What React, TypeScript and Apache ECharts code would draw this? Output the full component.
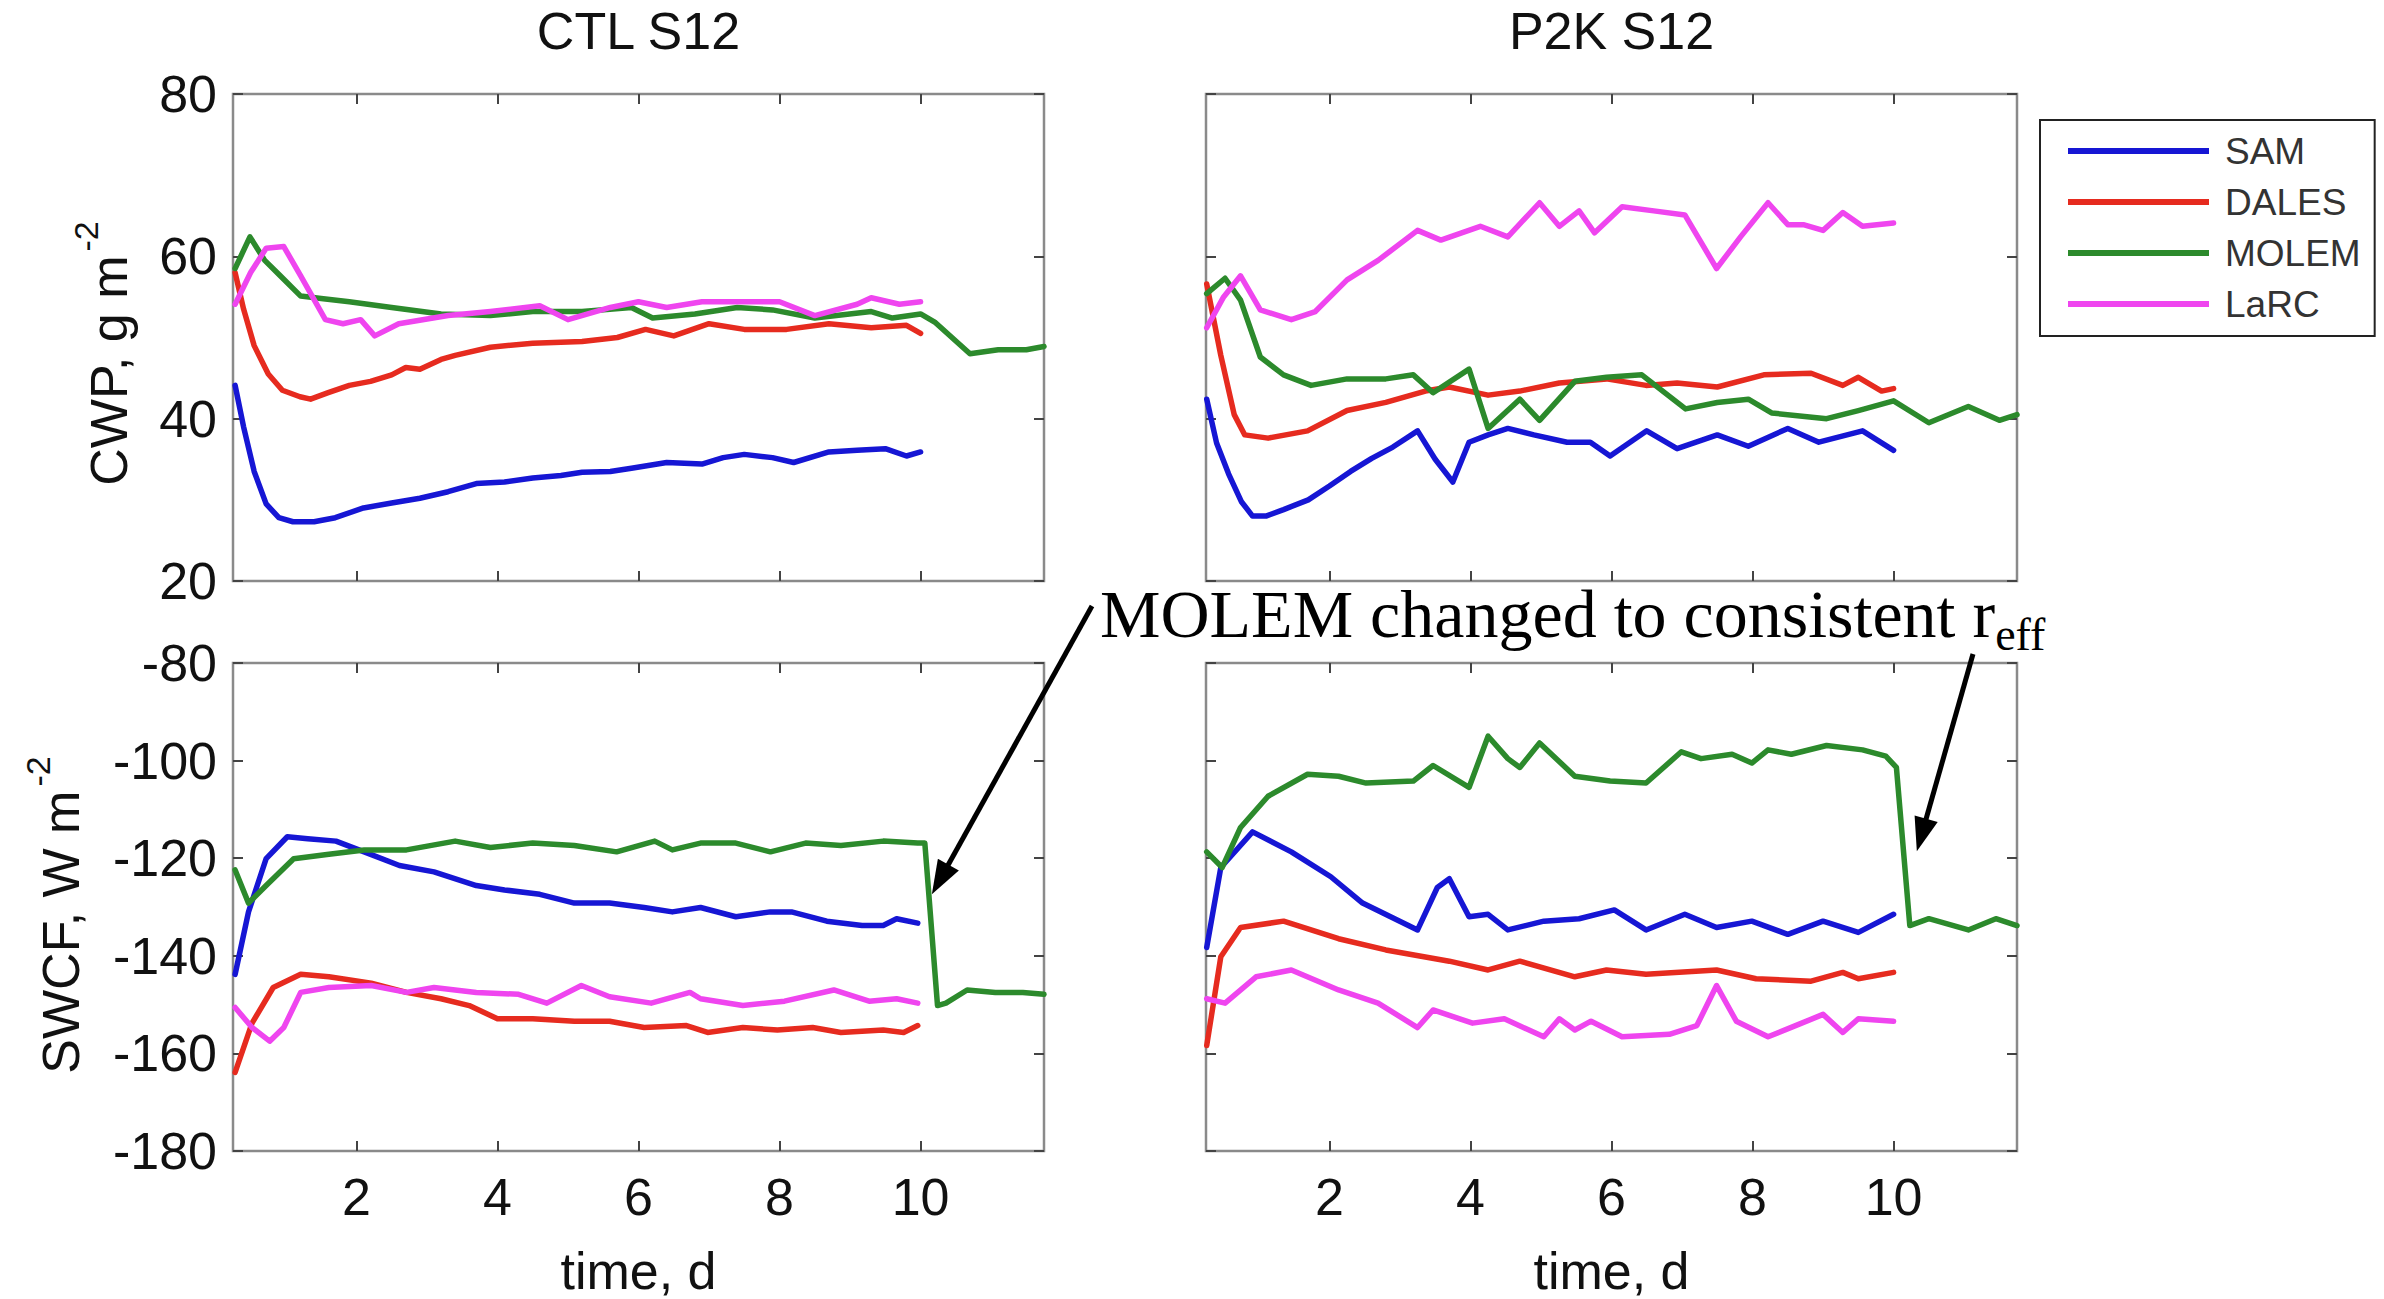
import React, { useEffect, useRef } from "react";
import * as echarts from "echarts";

// ---- series definitions ----
const MODELS = ["SAM", "DALES", "MOLEM", "LaRC"];
const COLORS = ["#1616d4", "#e62b1f", "#2c8a2c", "#ef45ef"];

// shared tick values
const X_TICKS = [2, 4, 6, 8, 10];
const X_RANGE = [0.25, 11.75];
const CWP_RANGE = [20, 80];
const SWCF_RANGE = [-180, -80];

// CTL S12, cloud water path (g m^-2) vs time (d)
const ctlCwpSam = [
  [0.28, 44.1], [0.4, 39], [0.55, 33.5], [0.72, 29.5], [0.9, 27.8], [1.1, 27.3], [1.4, 27.3],
  [1.7, 27.8], [2.1, 29], [2.5, 29.6], [2.9, 30.2], [3.3, 31], [3.7, 32], [4.1, 32.2],
  [4.5, 32.7], [4.9, 33], [5.2, 33.4], [5.6, 33.5], [5.9, 33.9], [6.4, 34.6], [6.9, 34.4],
  [7.2, 35.2], [7.5, 35.6], [7.9, 35.2], [8.2, 34.6], [8.7, 35.9], [9.1, 36.1], [9.5, 36.3],
  [9.8, 35.4], [10, 35.9],
];
const ctlCwpDales = [
  [0.28, 58], [0.4, 53.5], [0.55, 49], [0.75, 45.5], [0.95, 43.5], [1.2, 42.7], [1.35, 42.4],
  [1.6, 43.2], [1.9, 44.1], [2.2, 44.6], [2.5, 45.4], [2.7, 46.3], [2.9, 46.1], [3.2, 47.3],
  [3.4, 47.8], [3.9, 48.8], [4.5, 49.3], [5.2, 49.5], [5.7, 50], [6.1, 51], [6.5, 50.2],
  [7, 51.7], [7.5, 51], [8.1, 51], [8.7, 51.7], [9.3, 51.2], [9.8, 51.5], [10, 50.5],
];
const ctlCwpMolem = [
  [0.28, 58.5], [0.49, 62.4], [0.7, 59.5], [0.92, 57.6], [1.21, 55.1], [1.5, 54.8], [1.9, 54.4],
  [2.5, 53.7], [3.2, 52.9], [3.9, 52.7], [4.5, 53.2], [5.2, 53.2], [5.9, 53.7], [6.2, 52.4],
  [6.8, 52.9], [7.4, 53.7], [7.9, 53.4], [8.5, 52.4], [9.3, 53.2], [9.6, 52.4], [10, 52.9],
  [10.2, 51.9], [10.7, 48], [11.1, 48.5], [11.5, 48.5], [11.75, 48.9],
];
const ctlCwpLarc = [
  [0.28, 54.1], [0.5, 58], [0.72, 61], [0.97, 61.2], [1.21, 57.6], [1.56, 52.2], [1.81, 51.7],
  [2.06, 52.2], [2.26, 50.2], [2.6, 51.7], [3.3, 52.7], [3.9, 53.2], [4.6, 53.9], [5.0, 52.2],
  [5.6, 53.7], [6.0, 54.4], [6.4, 53.7], [6.9, 54.4], [7.5, 54.4], [8.0, 54.4], [8.5, 52.7],
  [9.1, 54.1], [9.3, 54.9], [9.7, 54.1], [10, 54.4],
];

// P2K S12, cloud water path
const p2kCwpSam = [
  [0.26, 42.4], [0.4, 37], [0.57, 33.2], [0.75, 29.8], [0.91, 28], [1.1, 28], [1.35, 28.8],
  [1.7, 30], [2.0, 31.7], [2.3, 33.5], [2.6, 35.1], [2.9, 36.5], [3.25, 38.5], [3.5, 35],
  [3.75, 32.2], [3.98, 37.1], [4.25, 38], [4.53, 38.8], [4.9, 38], [5.37, 37.1], [5.7, 37.1],
  [5.98, 35.4], [6.5, 38.5], [6.93, 36.3], [7.5, 38], [7.94, 36.6], [8.5, 38.8], [8.94, 37.1],
  [9.56, 38.5], [10, 36.1],
];
const p2kCwpDales = [
  [0.26, 56.6], [0.46, 47.8], [0.65, 40.5], [0.8, 38], [1.13, 37.6], [1.69, 38.5], [2.25, 41],
  [2.8, 42], [3.36, 43.4], [3.7, 43.9], [4.25, 42.9], [4.7, 43.4], [5.26, 44.4], [5.93, 44.9],
  [6.49, 44.1], [6.93, 44.4], [7.5, 43.9], [8.16, 45.4], [8.83, 45.6], [9.28, 44.1], [9.5, 45.1],
  [9.83, 43.4], [10, 43.7],
];
const p2kCwpMolem = [
  [0.26, 55.4], [0.52, 57.3], [0.74, 54.6], [1.02, 47.6], [1.35, 45.4], [1.74, 44.1], [2.25, 44.9],
  [2.8, 44.9], [3.19, 45.4], [3.47, 43.2], [3.98, 46.1], [4.25, 38.8], [4.7, 42.4], [4.98, 39.8],
  [5.48, 44.6], [5.93, 45.1], [6.43, 45.4], [7.05, 41.2], [7.5, 42], [7.94, 42.4], [8.27, 40.7],
  [9.05, 40], [9.5, 41], [10, 42.2], [10.5, 39.5], [11.06, 41.5], [11.5, 39.8], [11.75, 40.5],
];
const p2kCwpLarc = [
  [0.26, 51.2], [0.5, 55], [0.74, 57.6], [1.02, 53.4], [1.46, 52.2], [1.8, 53.2], [2.25, 57.1],
  [2.69, 59.5], [3.25, 63.2], [3.58, 62], [4.14, 63.7], [4.53, 62.4], [4.98, 66.6], [5.26, 63.7],
  [5.54, 65.6], [5.76, 62.9], [6.15, 66.1], [6.6, 65.6], [7.04, 65.1], [7.49, 58.5], [7.83, 62.4],
  [8.22, 66.6], [8.5, 63.9], [8.72, 63.9], [9.0, 63.2], [9.28, 65.4], [9.56, 63.7], [10, 64.1],
];

// CTL S12, shortwave cloud forcing (W m^-2)
const ctlSwcfSam = [
  [0.28, -143.8], [0.47, -131], [0.72, -120.1], [1.02, -115.6], [1.31, -116], [1.71, -116.5],
  [2.11, -118.7], [2.61, -121.5], [3.1, -122.8], [3.7, -125.6], [4.1, -126.5], [4.6, -127.4],
  [5.09, -129.2], [5.59, -129.2], [6.08, -130.1], [6.48, -131], [6.88, -130.1], [7.38, -132],
  [7.87, -131], [8.17, -131], [8.67, -132.9], [9.17, -133.8], [9.47, -133.8], [9.66, -132.4],
  [9.96, -133.3],
];
const ctlSwcfDales = [
  [0.28, -163.9], [0.52, -153.8], [0.82, -146.5], [1.21, -143.8], [1.61, -144.3], [2.21, -145.6],
  [2.71, -147.5], [3.2, -148.8], [3.6, -150.2], [4.0, -152.9], [4.5, -152.9], [5.09, -153.4],
  [5.59, -153.4], [6.08, -154.7], [6.68, -154.3], [6.98, -155.7], [7.48, -154.7], [7.97, -155.2],
  [8.47, -154.7], [8.87, -155.7], [9.47, -155.2], [9.76, -155.7], [9.96, -154.3],
];
const ctlSwcfMolem = [
  [0.28, -122.4], [0.47, -129.2], [0.72, -125.6], [1.11, -120.1], [1.61, -119.2], [2.11, -118.3],
  [2.71, -118.3], [3.4, -116.5], [3.9, -117.8], [4.5, -116.9], [5.09, -117.4], [5.69, -118.7],
  [6.23, -116.5], [6.48, -118.3], [6.88, -116.9], [7.38, -116.9], [7.87, -118.7], [8.37, -116.9],
  [8.87, -117.4], [9.47, -116.5], [9.96, -116.9], [10.06, -116.9], [10.24, -150.2], [10.36, -149.7],
  [10.66, -147], [11.06, -147.5], [11.45, -147.5], [11.75, -147.9],
];
const ctlSwcfLarc = [
  [0.28, -150.6], [0.52, -154.7], [0.77, -157.5], [0.97, -154.7], [1.21, -147.5], [1.61, -146.5],
  [2.21, -146.1], [2.71, -147.5], [3.1, -146.5], [3.7, -147.5], [4.3, -147.9], [4.7, -149.7],
  [5.19, -146.1], [5.59, -148.4], [6.18, -149.7], [6.73, -147.5], [6.88, -148.8], [7.48, -150.2],
  [8.07, -149.3], [8.77, -147], [9.27, -149.3], [9.66, -148.8], [9.96, -149.7],
];

// P2K S12, shortwave cloud forcing
const p2kSwcfSam = [
  [0.26, -138.3], [0.46, -121.9], [0.91, -114.6], [1.46, -118.7], [2.02, -123.8], [2.47, -129.2],
  [3.25, -134.7], [3.53, -126], [3.7, -124.2], [3.98, -132], [4.25, -131.5], [4.53, -134.7],
  [5.04, -132.9], [5.54, -132.4], [6.04, -130.6], [6.49, -134.7], [7.04, -131.5], [7.49, -134.2],
  [7.99, -132.9], [8.5, -135.6], [9.0, -132.9], [9.5, -135.2], [10, -131.5],
];
const p2kSwcfDales = [
  [0.26, -158.4], [0.46, -140.2], [0.74, -134.2], [1.35, -132.9], [2.13, -136.5], [2.8, -138.8],
  [3.7, -141.1], [4.25, -142.9], [4.7, -141.1], [5.48, -144.3], [5.93, -142.9], [6.49, -143.8],
  [7.49, -142.9], [8.05, -144.7], [8.83, -145.2], [9.28, -143.4], [9.5, -144.7], [10, -143.4],
];
const p2kSwcfMolem = [
  [0.26, -118.7], [0.48, -121.9], [0.74, -113.7], [1.13, -107.3], [1.69, -102.8], [2.13, -103.2],
  [2.52, -104.6], [3.19, -104.2], [3.47, -101], [3.98, -105.5], [4.25, -95], [4.53, -99.6],
  [4.7, -101.4], [4.98, -96.4], [5.48, -103.2], [5.98, -104.2], [6.49, -104.6], [6.99, -98.2],
  [7.27, -99.6], [7.71, -98.7], [7.99, -100.5], [8.22, -97.8], [8.55, -98.7], [9.05, -96.9],
  [9.56, -97.8], [9.89, -99.1], [10.04, -101.4], [10.23, -133.8], [10.5, -132.4], [11.06, -134.7],
  [11.45, -132.4], [11.75, -133.8],
];
const p2kSwcfLarc = [
  [0.26, -148.8], [0.52, -149.7], [0.96, -144.3], [1.46, -142.9], [2.13, -147], [2.69, -149.7],
  [3.25, -154.7], [3.47, -151.1], [4.03, -153.8], [4.48, -152.9], [5.04, -156.6], [5.26, -152.9],
  [5.48, -155.2], [5.71, -153.4], [6.15, -156.6], [6.82, -156.1], [7.21, -154.3], [7.49, -146.1],
  [7.77, -153.4], [8.22, -156.6], [8.61, -154.3], [9.0, -152], [9.28, -155.7], [9.5, -152.9],
  [10, -153.4],
];

// where the annotation arrows point: the MOLEM step in each SWCF panel [time, SWCF]
const arrowTargets = [
  [10.16, -127.4],
  [10.33, -118.6],
];

const PANEL_SERIES = [
  [ctlCwpSam, ctlCwpDales, ctlCwpMolem, ctlCwpLarc],
  [p2kCwpSam, p2kCwpDales, p2kCwpMolem, p2kCwpLarc],
  [ctlSwcfSam, ctlSwcfDales, ctlSwcfMolem, ctlSwcfLarc],
  [p2kSwcfSam, p2kSwcfDales, p2kSwcfMolem, p2kSwcfLarc],
];
const PANEL_RANGES = [CWP_RANGE, CWP_RANGE, SWCF_RANGE, SWCF_RANGE];

// ---- layout ----
const W = 2384;
const H = 1299;
const GRIDS = [
  { left: 233, top: 94, width: 811, height: 487 },
  { left: 1206, top: 94, width: 811, height: 487 },
  { left: 233, top: 663, width: 811, height: 488 },
  { left: 1206, top: 663, width: 811, height: 488 },
];
const SANS = "'Liberation Sans', Arial, Helvetica, sans-serif";
const SERIF = "'Liberation Serif', 'Times New Roman', serif";
const FRAME = "#8a8a8a";
const TICK = "#444444";
const INK = "#111111";

function buildOption() {
  const xAxis: any[] = [];
  const yAxis: any[] = [];
  GRIDS.forEach((_, i) => {
    const tickStyle = { inside: true, length: 10, lineStyle: { color: TICK, width: 2 } };
    const bottomRow = i >= 2;
    const leftCol = i % 2 === 0;
    ["bottom", "top"].forEach((pos) => {
      xAxis.push({
        gridIndex: i,
        type: "value",
        position: pos,
        min: X_RANGE[0],
        max: X_RANGE[1],
        axisLine: { show: false },
        splitLine: { show: false },
        axisTick: { ...tickStyle, customValues: X_TICKS },
        axisLabel: {
          show: pos === "bottom" && bottomRow,
          customValues: X_TICKS,
          margin: 20,
          fontSize: 52,
          fontFamily: SANS,
          color: INK,
        },
      });
    });
    ["left", "right"].forEach((pos) => {
      yAxis.push({
        gridIndex: i,
        type: "value",
        position: pos,
        min: PANEL_RANGES[i][0],
        max: PANEL_RANGES[i][1],
        interval: 20,
        axisLine: { show: false },
        splitLine: { show: false },
        axisTick: tickStyle,
        axisLabel: {
          show: pos === "left" && leftCol,
          margin: 16,
          fontSize: 52,
          fontFamily: SANS,
          color: INK,
        },
      });
    });
  });

  const series: any[] = [];
  PANEL_SERIES.forEach((lines, p) => {
    lines.forEach((data, m) => {
      series.push({
        type: "line",
        name: MODELS[m],
        xAxisIndex: 2 * p,
        yAxisIndex: 2 * p,
        data,
        symbol: "none",
        showSymbol: false,
        color: COLORS[m],
        itemStyle: { color: COLORS[m] },
        lineStyle: { width: 5.5, color: COLORS[m], join: "round", cap: "round" },
        z: 2 + m,
        silent: true,
      });
    });
  });

  return {
    animation: false,
    backgroundColor: "#ffffff",
    textStyle: { fontFamily: SANS },
    grid: GRIDS.map((g) => ({
      ...g,
      show: true,
      borderColor: FRAME,
      borderWidth: 2.5,
      backgroundColor: "transparent",
    })),
    xAxis,
    yAxis,
    legend: {
      orient: "vertical",
      left: 2040,
      top: 120,
      data: MODELS,
      icon: "rect",
      itemWidth: 141,
      itemHeight: 6,
      itemGap: 11,
      padding: [11, 14, 12, 28],
      borderColor: "#222222",
      borderWidth: 2,
      selectedMode: false,
      textStyle: {
        fontSize: 37,
        fontFamily: SANS,
        color: "#333333",
        lineHeight: 40,
        padding: [0, 0, 0, 11],
      },
    },
    series,
  };
}

function arrowElements(id: string, tail: number[], tip: number[]) {
  const dx = tip[0] - tail[0];
  const dy = tip[1] - tail[1];
  const len = Math.hypot(dx, dy);
  const ux = dx / len;
  const uy = dy / len;
  const headLen = 34;
  const headHalf = 12;
  const bx = tip[0] - ux * headLen;
  const by = tip[1] - uy * headLen;
  return [
    {
      type: "line",
      id: id + "-shaft",
      shape: { x1: tail[0], y1: tail[1], x2: bx + ux * 4, y2: by + uy * 4 },
      style: { stroke: "#000000", lineWidth: 5 },
      z: 100,
    },
    {
      type: "polygon",
      id: id + "-head",
      shape: {
        points: [
          [tip[0], tip[1]],
          [bx - uy * headHalf, by + ux * headHalf],
          [bx + uy * headHalf, by - ux * headHalf],
        ],
      },
      style: { fill: "#000000" },
      z: 100,
    },
  ];
}

function buildGraphics(chart: echarts.ECharts) {
  const cx = (g: { left: number; width: number }) => g.left + g.width / 2;
  const cy = (g: { top: number; height: number }) => g.top + g.height / 2;
  const titleStyle = { fontSize: 52, fontFamily: SANS, fill: INK, align: "center", verticalAlign: "middle" };

  const axisName = (id: string, text: string, x: number, y: number) => ({
    type: "text",
    id,
    x,
    y,
    rotation: Math.PI / 2,
    style: {
      text: `{n|${text}}{s|-2}`,
      align: "center",
      verticalAlign: "middle",
      fill: INK,
      fontFamily: SANS,
      rich: {
        n: { fontSize: 52, fontFamily: SANS, fill: INK, lineHeight: 80, verticalAlign: "middle" },
        s: { fontSize: 34, fontFamily: SANS, fill: INK, lineHeight: 34, verticalAlign: "top", padding: [0, 0, 0, 4] },
      },
    },
  });

  const tipL = chart.convertToPixel({ gridIndex: 2 } as any, arrowTargets[0]) as number[];
  const tipR = chart.convertToPixel({ gridIndex: 3 } as any, arrowTargets[1]) as number[];

  return [
    { type: "text", id: "title-ctl", x: cx(GRIDS[0]), y: 31, style: { text: "CTL S12", ...titleStyle } },
    { type: "text", id: "title-p2k", x: cx(GRIDS[1]), y: 31, style: { text: "P2K S12", ...titleStyle } },
    { type: "text", id: "xname-ctl", x: cx(GRIDS[2]), y: 1271, style: { text: "time, d", ...titleStyle } },
    { type: "text", id: "xname-p2k", x: cx(GRIDS[3]), y: 1271, style: { text: "time, d", ...titleStyle } },
    axisName("yname-cwp", "CWP, g m", 109, cy(GRIDS[0]) + 16),
    axisName("yname-swcf", "SWCF, W m", 61, cy(GRIDS[2]) + 8),
    {
      type: "text",
      id: "note",
      x: 1100,
      y: 614,
      z: 100,
      style: {
        text: "{m|MOLEM changed to consistent r}{s|eff}",
        align: "left",
        verticalAlign: "middle",
        fill: "#000000",
        fontFamily: SERIF,
        rich: {
          m: { fontSize: 68, fontFamily: SERIF, fill: "#000000", lineHeight: 87, verticalAlign: "middle" },
          s: { fontSize: 46, fontFamily: SERIF, fill: "#000000", lineHeight: 46, verticalAlign: "bottom" },
        },
      },
    },
    ...arrowElements("arrow-l", [1092, 606], tipL),
    ...arrowElements("arrow-r", [1973, 654], tipR),
  ];
}

export default function App() {
  const ref = useRef<HTMLDivElement>(null);
  useEffect(() => {
    if (!ref.current) return;
    const chart = echarts.init(ref.current, undefined, { renderer: "svg" });
    chart.setOption(buildOption() as any);
    chart.setOption({ graphic: { elements: buildGraphics(chart) } } as any);
    return () => chart.dispose();
  }, []);
  return (
    <div
      ref={ref}
      style={{ position: "fixed", left: 0, top: 0, width: W, height: H, background: "#ffffff" }}
    />
  );
}
